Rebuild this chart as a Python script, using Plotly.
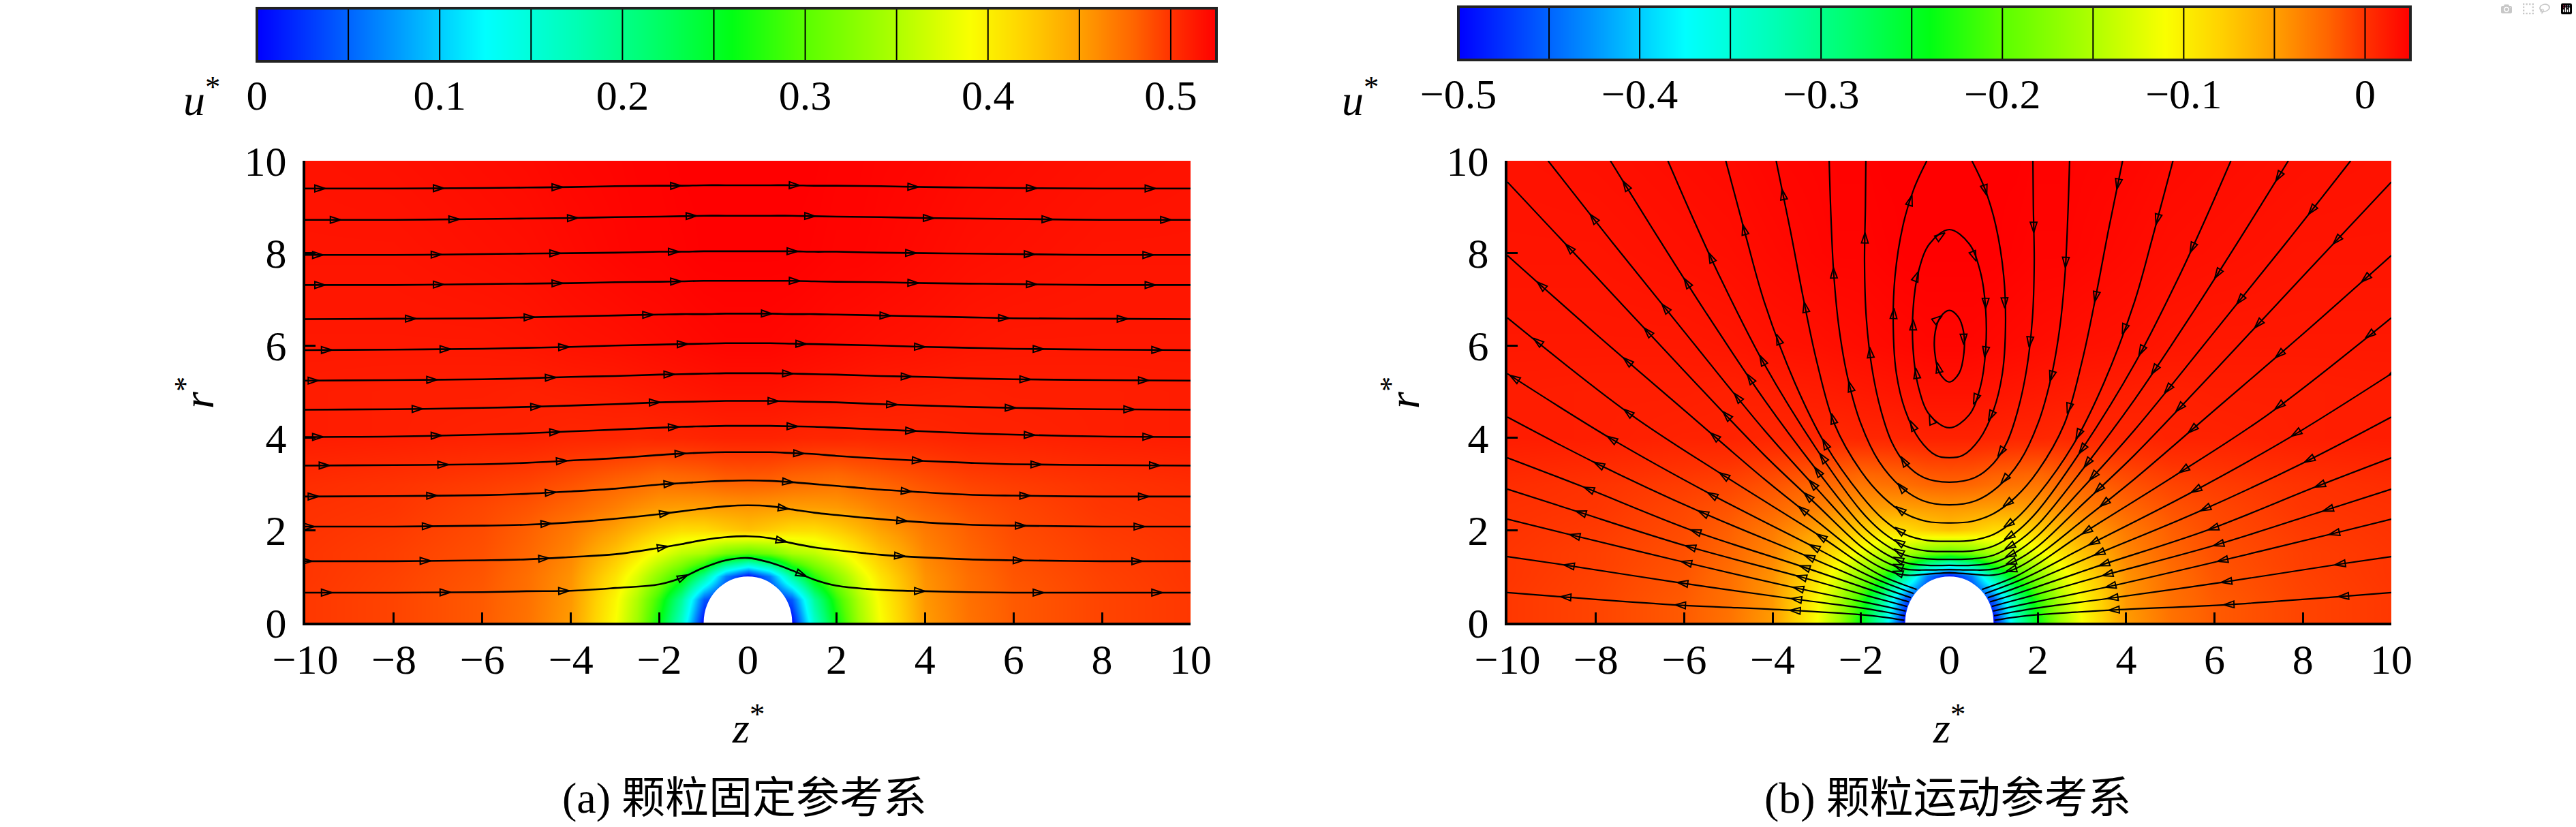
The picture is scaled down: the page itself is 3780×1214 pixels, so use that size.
import numpy as np
import plotly.graph_objects as go

W, H = 3780, 1214

# ------------------------------------------------------------------ data
# axial velocity u* (particle-fixed frame), half plane z>=0 (field is fore-aft symmetric)
Z_HALF = [0, 0.5, 1, 1.5, 2, 2.5, 3, 4, 5, 6, 8, 10]
R_GRID = [0, 0.5, 1, 1.25, 1.5, 2, 2.5, 3, 4, 5, 6, 8, 10]
U_HALF = [
    [0.000, 0.000, 0.000, 0.160, 0.260, 0.340, 0.390, 0.452, 0.473, 0.484, 0.493, 0.498],
    [0.000, 0.000, 0.044, 0.191, 0.280, 0.349, 0.395, 0.454, 0.474, 0.484, 0.493, 0.498],
    [0.000, 0.064, 0.190, 0.277, 0.327, 0.374, 0.409, 0.457, 0.475, 0.486, 0.494, 0.499],
    [0.150, 0.194, 0.276, 0.321, 0.354, 0.390, 0.419, 0.460, 0.477, 0.487, 0.495, 0.499],
    [0.300, 0.315, 0.346, 0.358, 0.382, 0.407, 0.429, 0.463, 0.479, 0.488, 0.495, 0.499],
    [0.430, 0.423, 0.414, 0.413, 0.422, 0.435, 0.449, 0.469, 0.482, 0.490, 0.497, 0.500],
    [0.455, 0.453, 0.451, 0.451, 0.453, 0.459, 0.467, 0.479, 0.487, 0.492, 0.499, 0.501],
    [0.480, 0.479, 0.475, 0.473, 0.471, 0.476, 0.479, 0.487, 0.493, 0.496, 0.500, 0.503],
    [0.508, 0.508, 0.507, 0.506, 0.506, 0.505, 0.506, 0.506, 0.508, 0.508, 0.510, 0.511],
    [0.516, 0.516, 0.515, 0.514, 0.513, 0.512, 0.511, 0.510, 0.509, 0.510, 0.510, 0.511],
    [0.522, 0.522, 0.521, 0.520, 0.519, 0.518, 0.517, 0.516, 0.514, 0.513, 0.513, 0.513],
    [0.525, 0.525, 0.525, 0.524, 0.523, 0.523, 0.522, 0.520, 0.518, 0.517, 0.515, 0.515],
    [0.525, 0.525, 0.525, 0.525, 0.524, 0.524, 0.523, 0.522, 0.520, 0.519, 0.517, 0.516],
]
FRAME_SHIFT = 0.5          # particle speed: u*(moving frame) = u*(fixed frame) - 0.5
PARTICLE_RADIUS = 1.0

Z_TICKS = [-10, -8, -6, -4, -2, 0, 2, 4, 6, 8, 10]
R_TICKS = [0, 2, 4, 6, 8, 10]
CB_A_TICKS = [0, 0.1, 0.2, 0.3, 0.4, 0.5]
CB_B_TICKS = [-0.5, -0.4, -0.3, -0.2, -0.1, 0]
CB_A_EDGES = [0, 0.05, 0.1, 0.15, 0.2, 0.25, 0.3, 0.35, 0.4, 0.45, 0.5, 0.525]
CB_B_EDGES = [-0.5, -0.45, -0.4, -0.35, -0.3, -0.25, -0.2, -0.15, -0.1, -0.05, 0, 0.025]

COLOR_VALUES = [0.0, 0.03, 0.075, 0.105, 0.125, 0.175, 0.215, 0.26, 0.30, 0.35, 0.39,
                0.42, 0.45, 0.48, 0.50, 0.525]
COLOR_RGB = ["rgb(0,0,255)", "rgb(0,60,255)", "rgb(0,150,255)", "rgb(0,215,255)",
             "rgb(0,255,255)", "rgb(0,255,180)", "rgb(0,255,110)", "rgb(0,255,20)",
             "rgb(90,255,0)", "rgb(175,255,0)", "rgb(250,255,0)", "rgb(255,210,0)",
             "rgb(255,160,0)", "rgb(255,100,0)", "rgb(255,50,0)", "rgb(255,0,0)"]

# panel (a): streamlines in the particle-fixed frame (flow to +z)
A_Z = [-10, -8, -6, -5, -4, -3, -2, -1.5, -1, -0.5, 0, 0.5, 1, 1.5, 2, 3, 4, 5, 6, 8, 10]
A_LINES_R = [
    [0.65, 0.65, 0.66, 0.68, 0.69, 0.75, 0.83, 0.97, 1.19, 1.35, 1.40, 1.30, 1.13, 0.93, 0.80, 0.71, 0.68, 0.66, 0.65, 0.65, 0.65],
    [1.33, 1.33, 1.35, 1.37, 1.42, 1.48, 1.62, 1.70, 1.79, 1.85, 1.87, 1.83, 1.72, 1.63, 1.57, 1.47, 1.41, 1.37, 1.35, 1.33, 1.33],
    [2.08, 2.08, 2.10, 2.12, 2.17, 2.25, 2.35, 2.41, 2.47, 2.52, 2.54, 2.52, 2.45, 2.38, 2.33, 2.24, 2.17, 2.12, 2.10, 2.08, 2.08],
    [2.73, 2.74, 2.76, 2.79, 2.84, 2.90, 2.99, 3.02, 3.05, 3.07, 3.08, 3.07, 3.04, 3.00, 2.96, 2.88, 2.82, 2.77, 2.75, 2.73, 2.73],
    [3.40, 3.41, 3.43, 3.46, 3.51, 3.56, 3.63, 3.66, 3.68, 3.69, 3.69, 3.69, 3.67, 3.65, 3.61, 3.55, 3.50, 3.46, 3.43, 3.41, 3.40],
    [4.02, 4.03, 4.07, 4.10, 4.14, 4.18, 4.22, 4.24, 4.25, 4.26, 4.26, 4.26, 4.25, 4.24, 4.22, 4.18, 4.14, 4.10, 4.07, 4.03, 4.02],
    [4.61, 4.62, 4.65, 4.67, 4.70, 4.73, 4.77, 4.78, 4.79, 4.80, 4.80, 4.80, 4.79, 4.78, 4.77, 4.73, 4.70, 4.67, 4.65, 4.62, 4.61],
    [5.24, 5.25, 5.27, 5.29, 5.32, 5.34, 5.37, 5.38, 5.39, 5.40, 5.40, 5.40, 5.39, 5.38, 5.37, 5.34, 5.32, 5.29, 5.27, 5.25, 5.24],
    [5.90, 5.91, 5.93, 5.95, 5.97, 6.00, 6.02, 6.03, 6.04, 6.05, 6.05, 6.05, 6.04, 6.03, 6.02, 6.00, 5.97, 5.95, 5.93, 5.91, 5.90],
    [6.57, 6.58, 6.59, 6.61, 6.63, 6.65, 6.67, 6.68, 6.68, 6.69, 6.69, 6.69, 6.68, 6.68, 6.67, 6.65, 6.63, 6.61, 6.59, 6.58, 6.57],
    [7.31, 7.31, 7.33, 7.34, 7.35, 7.37, 7.38, 7.39, 7.40, 7.40, 7.40, 7.40, 7.40, 7.39, 7.38, 7.37, 7.35, 7.34, 7.33, 7.31, 7.31],
    [7.96, 7.96, 7.98, 7.99, 8.00, 8.01, 8.03, 8.03, 8.04, 8.04, 8.04, 8.04, 8.04, 8.03, 8.03, 8.01, 8.00, 7.99, 7.98, 7.96, 7.96],
    [8.72, 8.72, 8.74, 8.75, 8.76, 8.78, 8.79, 8.80, 8.81, 8.81, 8.81, 8.81, 8.81, 8.80, 8.79, 8.78, 8.76, 8.75, 8.74, 8.72, 8.72],
    [9.40, 9.40, 9.41, 9.42, 9.43, 9.45, 9.46, 9.46, 9.47, 9.47, 9.47, 9.47, 9.47, 9.46, 9.46, 9.45, 9.43, 9.42, 9.41, 9.40, 9.40],
]
A_ARROW_START = [-9.4, -9.85, -9.8, -9.7, -9.45, -9.6, -7.35, -9.7, -9.4, -7.5, -9.55, -9.6, -9.2, -9.55]
A_ARROW_STEP = 2.68

# panel (b): streamlines in the moving frame, left half (mirror image on the right)
# lines that start on the particle surface and run out to the left edge
B_CONTACT_Z = [
    [-1.02, -1.5, -2.0, -3.64, -6.31, -8.92, -10],
    [-1.01, -1.5, -2.0, -3.57, -6.22, -8.92, -10],
    [-0.99, -1.5, -2.0, -3.51, -6.18, -8.73, -10],
    [-0.96, -1.5, -2.0, -3.44, -5.99, -8.50, -10],
    [-0.92, -1.5, -2.0, -3.38, -5.86, -8.34, -10],
    [-0.87, -1.5, -2.0, -3.25, -5.66, -8.01, -10],
    [-0.81, -1.5, -2.0, -3.09, -5.40, -7.65, -10],
    [-0.74, -1.5, -2.0, -2.92, -5.08, -7.23, -10],
]
B_CONTACT_R = [
    [0.05, 0.12, 0.17, 0.27, 0.39, 0.57, 0.65],
    [0.15, 0.24, 0.32, 0.52, 0.88, 1.28, 1.43],
    [0.25, 0.36, 0.46, 0.76, 1.35, 1.94, 2.24],
    [0.35, 0.49, 0.62, 1.01, 1.67, 2.43, 2.89],
    [0.45, 0.62, 0.78, 1.23, 2.01, 2.96, 3.57],
    [0.54, 0.75, 0.94, 1.45, 2.41, 3.46, 4.45],
    [0.63, 0.88, 1.10, 1.65, 2.78, 3.98, 5.39],
    [0.72, 1.00, 1.27, 1.87, 3.17, 4.52, 6.60],
]
# lines that pass over the particle (from z=0 out to the left/top edge)
B_OVER_Z = [
    [0, -0.5, -1.0, -1.5, -2.0, -3.0, -4.19, -6.0, -8.0, -10],
    [0, -0.5, -1.0, -1.5, -2.0, -3.0, -4.19, -6.0, -8.0, -10],
    [0, -0.5, -1.0, -1.5, -2.0, -3.0, -4.19, -6.0, -7.6, -9.08],
    [0, -0.5, -1.0, -1.5, -2.0, -3.0, -4.19, -5.5, -6.6, -7.67],
    [0, -0.5, -1.0, -1.5, -2.0, -3.0, -4.19, -5.2, -5.8, -6.37],
    [0, -0.5, -1.0, -1.5, -2.0, -2.8, -3.5, -4.19, -4.6, -5.06],
    [0, -0.5, -1.0, -1.5, -2.0, -2.6, -3.0, -3.3, -3.6, -3.92],
    [0, -0.6, -1.1, -1.6, -2.0, -2.3, -2.5, -2.62, -2.68, -2.72],
    [0, -0.58, -1.0, -1.3, -1.55, -1.75, -1.88, -1.92, -1.9, -1.89],
    [0, -0.3, -0.68, -1.0, -1.2, -1.27, -1.23, -1.05, -0.8, -0.51],
]
B_OVER_R = [
    [1.08, 1.05, 1.03, 1.17, 1.45, 2.20, 3.11, 4.60, 6.25, 7.95],
    [1.15, 1.14, 1.16, 1.34, 1.65, 2.55, 3.63, 5.45, 7.50, 9.54],
    [1.24, 1.24, 1.30, 1.52, 1.88, 2.90, 4.17, 6.30, 8.20, 10.0],
    [1.37, 1.38, 1.46, 1.72, 2.12, 3.30, 4.83, 6.70, 8.35, 10.0],
    [1.54, 1.55, 1.66, 1.95, 2.42, 3.75, 5.60, 7.50, 8.75, 10.0],
    [1.76, 1.78, 1.91, 2.24, 2.76, 3.85, 5.20, 6.95, 8.35, 10.0],
    [2.16, 2.19, 2.36, 2.72, 3.28, 4.30, 5.65, 7.00, 8.50, 10.0],
    [2.55, 2.64, 2.94, 3.50, 4.30, 5.30, 6.40, 7.60, 8.80, 10.0],
    [3.04, 3.14, 3.45, 3.90, 4.60, 5.50, 6.60, 7.80, 9.00, 10.0],
    [3.57, 3.62, 3.97, 4.60, 5.40, 6.40, 7.50, 8.60, 9.40, 10.0],
]
# closed recirculation loops (left half, bottom -> top)
B_LOOP_Z = [
    [0, -0.45, -0.70, -0.82, -0.82, -0.70, -0.45, 0],
    [0, -0.22, -0.33, -0.32, -0.20, 0],
]
B_LOOP_R = [
    [4.22, 4.50, 5.10, 5.90, 6.80, 7.60, 8.20, 8.51],
    [5.21, 5.40, 5.85, 6.30, 6.62, 6.76],
]
B_ARROW_STEP = 2.6
B_OVER_ARROW_FIRST = 1.3
B_LOOP_ARROW_STEP = 1.1

# ------------------------------------------------------------------ layout geometry (pixels)
FRAME_A = (448, 1747, 236, 914)
FRAME_B = (2212, 3509, 236, 914)
BAR_A = (377, 1785, 12, 90)
BAR_B = (2140, 3537, 10, 88)
FONT = "Liberation Serif, Noto Sans CJK SC, serif"


def dom(fr):
    x0, x1, y0, y1 = fr
    return [x0 / W, x1 / W], [(H - y1) / H, (H - y0) / H]


def scales(fr, xr, yr):
    x0, x1, y0, y1 = fr
    return (x1 - x0) / xr, (y1 - y0) / yr


colorscale = [[v / COLOR_VALUES[-1], c] for v, c in zip(COLOR_VALUES, COLOR_RGB)]

Z_FULL = [-z for z in Z_HALF[:0:-1]] + Z_HALF
U_FULL = np.array([row[:0:-1] + row for row in U_HALF])


def arrows_on(z, r, s_pos, sx, sy):
    z = np.asarray(z, float)
    r = np.asarray(r, float)
    X, Y = z * sx, r * sy
    dX, dY = np.diff(X), np.diff(Y)
    cum = np.concatenate([[0.0], np.cumsum(np.hypot(dX, dY))])
    s_pos = np.array([s for s in s_pos if 0 < s < cum[-1]])
    if len(s_pos) == 0:
        return [], [], []
    az = np.interp(s_pos, cum, z)
    ar = np.interp(s_pos, cum, r)
    idx = np.clip(np.searchsorted(cum, s_pos, side="right") - 1, 0, len(dX) - 1)
    ang = np.degrees(np.arctan2(dX[idx], dY[idx]))
    return list(az), list(ar), list(ang)


def path_len(z, r, sx, sy):
    z = np.asarray(z, float) * sx
    r = np.asarray(r, float) * sy
    return float(np.sum(np.hypot(np.diff(z), np.diff(r))))


fig = go.Figure()

# ------------------------------------------------------------------ panel (a)
sxa, sya = scales(FRAME_A, 20, 10)
fig.add_trace(go.Heatmap(x=Z_FULL, y=R_GRID, z=U_FULL, zmin=0, zmax=0.525,
                         colorscale=colorscale, zsmooth="best", showscale=False,
                         hoverinfo="skip", xaxis="x", yaxis="y"))
lx, ly, mx, my, ma = [], [], [], [], []
for rr, z0 in zip(A_LINES_R, A_ARROW_START):
    lx += A_Z + [None]
    ly += rr + [None]
    zs = np.arange(z0, 10, A_ARROW_STEP)
    r1 = np.interp(zs, A_Z, rr)
    r2 = np.interp(zs + 0.05, A_Z, rr)
    mx += list(zs)
    my += list(r1)
    ma += list(np.degrees(np.arctan2(0.05 * sxa, (r2 - r1) * sya)))
fig.add_trace(go.Scatter(x=lx, y=ly, mode="lines", line=dict(color="black", width=2.6, shape="spline"),
                         hoverinfo="skip", xaxis="x", yaxis="y"))
fig.add_trace(go.Scatter(x=mx, y=my, mode="markers", hoverinfo="skip", xaxis="x", yaxis="y",
                         marker=dict(symbol="arrow-open", size=16, angle=ma, color="black",
                                     line=dict(color="black", width=2))))

# ------------------------------------------------------------------ panel (b)
sxb, syb = scales(FRAME_B, 20, 10)
step_b = B_ARROW_STEP * sxb
fig.add_trace(go.Heatmap(x=Z_FULL, y=R_GRID, z=U_FULL - FRAME_SHIFT, zmin=-0.5, zmax=0.025,
                         colorscale=colorscale, zsmooth="best", showscale=False,
                         hoverinfo="skip", xaxis="x2", yaxis="y2"))
lx, ly, mx, my, ma = [], [], [], [], []


def add_arrows(res):
    mx.extend(res[0]); my.extend(res[1]); ma.extend(res[2])


for zl, rl in zip(B_CONTACT_Z, B_CONTACT_R):
    zr = [-z for z in reversed(zl)]
    rr = list(reversed(rl))
    lx += zl + [None] + zr + [None]
    ly += rl + [None] + rr + [None]
    L = path_len(zl, rl, sxb, syb)
    s_left = list(np.arange(step_b, L, step_b))
    add_arrows(arrows_on(zl, rl, s_left, sxb, syb))
    add_arrows(arrows_on(zr, rr, [L - s for s in s_left], sxb, syb))

for zl, rl in zip(B_OVER_Z, B_OVER_R):
    zr = [-z for z in reversed(zl)]
    rr = list(reversed(rl))
    lx += zr + zl[1:] + [None]
    ly += rr + rl[1:] + [None]
    L = path_len(zl, rl, sxb, syb)
    s_left = list(np.arange(B_OVER_ARROW_FIRST * sxb, L, step_b))
    add_arrows(arrows_on(zl, rl, s_left, sxb, syb))
    add_arrows(arrows_on(zr, rr, [L - s for s in s_left], sxb, syb))

for zl, rl in zip(B_LOOP_Z, B_LOOP_R):
    zf = zl + [-z for z in reversed(zl[:-1])]
    rf = rl + list(reversed(rl[:-1]))
    lx += zf + [None]
    ly += rf + [None]
    L = path_len(zf, rf, sxb, syb)
    add_arrows(arrows_on(zf, rf, list(np.arange(0.5 * B_LOOP_ARROW_STEP * sxb, L, B_LOOP_ARROW_STEP * sxb)), sxb, syb))

fig.add_trace(go.Scatter(x=lx, y=ly, mode="lines", line=dict(color="black", width=2.2, shape="spline"),
                         hoverinfo="skip", xaxis="x2", yaxis="y2"))
fig.add_trace(go.Scatter(x=mx, y=my, mode="markers", hoverinfo="skip", xaxis="x2", yaxis="y2",
                         marker=dict(symbol="arrow-open", size=16, angle=ma, color="black",
                                     line=dict(color="black", width=1.9))))

# ------------------------------------------------------------------ colour bars
fig.add_trace(go.Heatmap(x=CB_A_EDGES, y=[0, 1], z=[CB_A_EDGES, CB_A_EDGES], zmin=0, zmax=0.525,
                         colorscale=colorscale, zsmooth="best", showscale=False,
                         hoverinfo="skip", xaxis="x3", yaxis="y3"))
fig.add_trace(go.Heatmap(x=CB_B_EDGES, y=[0, 1], z=[CB_B_EDGES, CB_B_EDGES], zmin=-0.5, zmax=0.025,
                         colorscale=colorscale, zsmooth="best", showscale=False,
                         hoverinfo="skip", xaxis="x4", yaxis="y4"))

tickfont = dict(family=FONT, size=62, color="black")
main_ax = dict(showline=True, linewidth=4, linecolor="black", ticks="inside", ticklen=15,
               tickwidth=3, tickcolor="black", showgrid=False, zeroline=False, automargin=False,
               tickfont=tickfont, layer="above traces", mirror=False, fixedrange=True)

xa, ya = dom(FRAME_A)
xb, yb = dom(FRAME_B)
x3, y3 = dom(BAR_A)
x4, y4 = dom(BAR_B)

XSTAND = -3
try:
    go.layout.XAxis(ticklabelstandoff=XSTAND)
except Exception:
    XSTAND = 0

fig.update_layout(
    width=W, height=H, margin=dict(l=0, r=0, t=0, b=0, pad=0, autoexpand=False),
    paper_bgcolor="white", plot_bgcolor="white", showlegend=False,
    xaxis=dict(domain=xa, range=[-10, 10], tickvals=Z_TICKS, anchor="y", ticklabelstandoff=XSTAND, **main_ax),
    yaxis=dict(domain=ya, range=[0, 10], tickvals=R_TICKS, anchor="x", ticklabelstandoff=11, **main_ax),
    xaxis2=dict(domain=xb, range=[-10, 10], tickvals=Z_TICKS, anchor="y2", ticklabelstandoff=XSTAND, **main_ax),
    yaxis2=dict(domain=yb, range=[0, 10], tickvals=R_TICKS, anchor="x2", ticklabelstandoff=11, **main_ax),
    xaxis3=dict(domain=x3, range=[CB_A_EDGES[0], CB_A_EDGES[-1]], tickvals=CB_A_TICKS, anchor="y3",
                ticks="", showline=False, showgrid=False, zeroline=False, tickfont=tickfont,
                ticklabelstandoff=8, fixedrange=True, automargin=False),
    yaxis3=dict(domain=y3, range=[0, 1], visible=False, anchor="x3", fixedrange=True, automargin=False),
    xaxis4=dict(domain=x4, range=[CB_B_EDGES[0], CB_B_EDGES[-1]], tickvals=CB_B_TICKS, anchor="y4",
                ticks="", showline=False, showgrid=False, zeroline=False, tickfont=tickfont,
                ticklabelstandoff=8, fixedrange=True, automargin=False),
    yaxis4=dict(domain=y4, range=[0, 1], visible=False, anchor="x4", fixedrange=True, automargin=False),
)

shapes = []
for xr_, yr_ in (("x", "y"), ("x2", "y2")):
    shapes.append(dict(type="circle", xref=xr_, yref=yr_, x0=-PARTICLE_RADIUS, x1=PARTICLE_RADIUS,
                       y0=-PARTICLE_RADIUS, y1=PARTICLE_RADIUS, fillcolor="white",
                       line=dict(width=0), layer="above"))
for xr_, yr_, edges in (("x3", "y3", CB_A_EDGES), ("x4", "y4", CB_B_EDGES)):
    for v in edges[1:-1]:
        shapes.append(dict(type="line", xref=xr_, yref=yr_ + " domain", x0=v, x1=v, y0=0, y1=1,
                           line=dict(color="black", width=2)))
    shapes.append(dict(type="rect", xref=xr_ + " domain", yref=yr_ + " domain", x0=0, x1=1, y0=0, y1=1,
                       line=dict(color="#222", width=4)))
fig.update_layout(shapes=shapes)

ann_font = dict(family=FONT, size=64, color="black")


def px2paper(x, y):
    return x / W, (H - y) / H


annotations = []
for (x, y, txt, ang) in [
    (1098, 1063, "<i>z</i><sup>*</sup>", 0),
    (2860, 1063, "<i>z</i><sup>*</sup>", 0),
    (286, 577, "<i>r</i><sup>*</sup>", -90),
    (2055, 577, "<i>r</i><sup>*</sup>", -90),
    (296, 142, "<i>u</i><sup>*</sup>", 0),
    (1996, 142, "<i>u</i><sup>*</sup>", 0),
    (1092, 1171, "(a) 颗粒固定参考系", 0),
    (2858, 1171, "(b) 颗粒运动参考系", 0),
]:
    px, py = px2paper(x, y)
    annotations.append(dict(x=px, y=py, xref="paper", yref="paper", text=txt, showarrow=False,
                            textangle=ang, xanchor="center", yanchor="middle", font=ann_font))
fig.update_layout(annotations=annotations)

fig.write_html("out.html", post_script="document.body.style.margin='0';document.body.style.overflow='hidden';")
